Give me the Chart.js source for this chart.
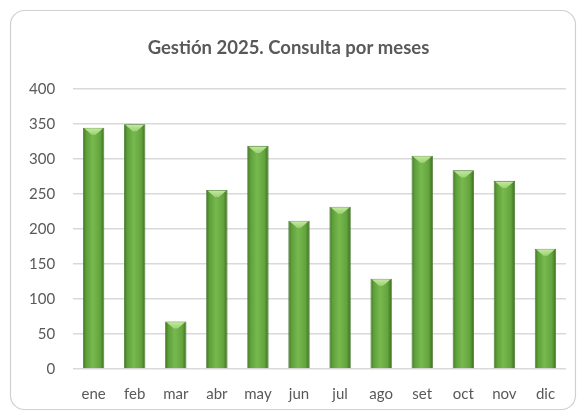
<!DOCTYPE html>
<html><head><meta charset="utf-8">
<style>html,body{margin:0;padding:0;background:#fff;}#wrap{width:581px;height:414px;position:relative;}</style>
<script src="https://cdn.jsdelivr.net/npm/chart.js@4.4.1/dist/chart.umd.min.js"></script>
</head><body><div id="wrap"><canvas id="c" width="581" height="414"></canvas></div>
<script>
const categories = ['ene','feb','mar','abr','may','jun','jul','ago','set','oct','nov','dic'];
const consultas = [345, 350, 68, 256, 319, 212, 232, 129, 305, 284, 269, 172];
const titleText = 'Gestión 2025. Consulta por meses';
const yMax = 400, yStep = 50;

const frame = {
  id: 'frame',
  beforeDraw(chart) {
    const ctx = chart.ctx; ctx.save();
    ctx.fillStyle = '#fff'; ctx.fillRect(0,0,chart.width,chart.height);
    ctx.strokeStyle = '#d0d0d0'; ctx.lineWidth = 1.2;
    ctx.beginPath(); ctx.roundRect(10.5, 10.5, chart.width-16, chart.height-15, 14); ctx.stroke();
    ctx.restore();
  }
};
const bevel = {
  id: 'bevel',
  afterDatasetsDraw(chart) {
    const ctx = chart.ctx; ctx.save();
    chart.getDatasetMeta(0).data.forEach(b => {
      const w = b.width, l = b.x - w/2, r = b.x + w/2, t = b.y;
      if (!isFinite(w) || !isFinite(t)) return;
      const h = w*0.33;
      const g = ctx.createLinearGradient(0, t, 0, t + h);
      g.addColorStop(0, 'rgba(205,238,170,0.97)'); g.addColorStop(1, 'rgba(165,218,125,0.8)');
      ctx.fillStyle = g;
      ctx.beginPath(); ctx.moveTo(l+1.5, t+0.8); ctx.lineTo(r-1.5, t+0.8); ctx.lineTo(b.x+2, t + h); ctx.lineTo(b.x-2, t + h); ctx.closePath(); ctx.fill();
    });
    ctx.restore();
  }
};
function barGrad(context) {
  const chart = context.chart;
  const xs = chart.scales && chart.scales.x;
  if (!xs || !chart.chartArea) return '#70ad47';
  const cx = xs.getPixelForValue(context.dataIndex);
  const w = (xs.width / categories.length) * 0.52;
  if (!isFinite(cx) || !isFinite(w)) return '#70ad47';
  const g = chart.ctx.createLinearGradient(cx - w/2, 0, cx + w/2, 0);
  g.addColorStop(0, '#3d7421'); g.addColorStop(0.15, '#5e9f39');
  g.addColorStop(0.45, '#77b94f'); g.addColorStop(0.8, '#64a43e'); g.addColorStop(1, '#3a6e1f');
  return g;
}
new Chart(document.getElementById('c'), {
  type: 'bar',
  data: { labels: categories, datasets: [{ data: consultas, backgroundColor: barGrad, borderColor: '#3e6e25', borderWidth: 0.8, categoryPercentage: 1, barPercentage: 0.52 }] },
  options: {
    responsive: false, animation: false, devicePixelRatio: 1,
    layout: { padding: { top: 37, left: 11, right: 15, bottom: 3 } },
    plugins: {
      legend: { display: false }, tooltip: { enabled: false },
      title: { display: true, text: titleText, color: '#595959', font: { family: 'Lato', size: 18.5, weight: 'bold' }, padding: { top: 0, bottom: 30 } }
    },
    scales: {
      x: { grid: { display: false }, border: { display: false }, ticks: { color: '#595959', font: { family: 'Lato', size: 15 }, padding: 8 } },
      y: { min: 0, max: yMax, ticks: { stepSize: yStep, color: '#595959', font: { family: 'Lato', size: 15 }, padding: 18 },
           grid: { color: '#d9d9d9', lineWidth: 1.5, drawTicks: false }, border: { display: false } }
    }
  },
  plugins: [frame, bevel]
});
</script></body></html>
